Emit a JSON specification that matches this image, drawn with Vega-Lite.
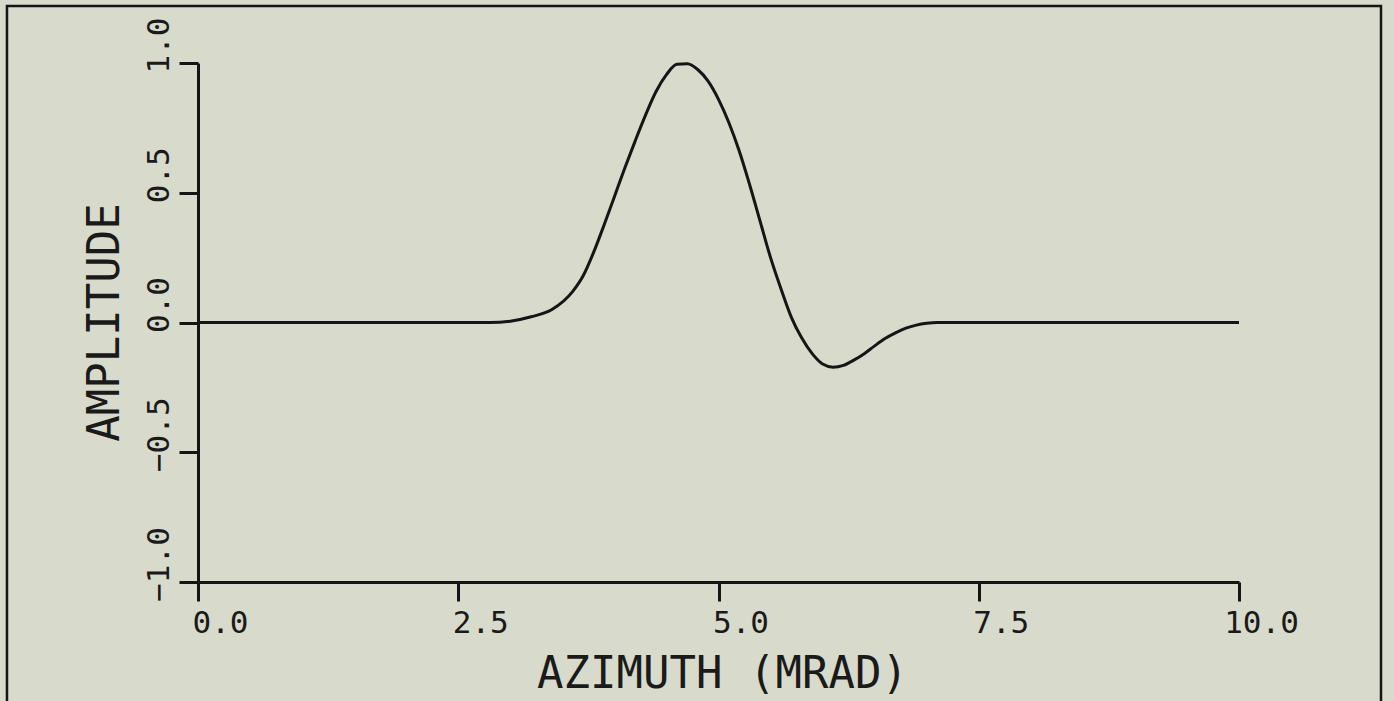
{
  "$schema": "https://vega.github.io/schema/vega-lite/v6.json",
  "width": 1041,
  "height": 519,
  "autosize": {"type": "none"},
  "padding": {"left": 198, "top": 63, "right": 155, "bottom": 119},
  "background": "#d8dacb",
  "config": {"view": {"stroke": null}, "font": "DejaVu Sans Mono"},
  "datasets": {
    "curve": [
      {"az": 0.0, "amp": 0.0},
      {"az": 1.0, "amp": 0.0},
      {"az": 2.0, "amp": 0.0},
      {"az": 2.8, "amp": 0.0},
      {"az": 3.0, "amp": 0.005},
      {"az": 3.2, "amp": 0.022},
      {"az": 3.4, "amp": 0.05},
      {"az": 3.6, "amp": 0.12},
      {"az": 3.7, "amp": 0.18},
      {"az": 3.8, "amp": 0.27},
      {"az": 3.9, "amp": 0.375},
      {"az": 4.0, "amp": 0.485},
      {"az": 4.1, "amp": 0.595},
      {"az": 4.2, "amp": 0.7},
      {"az": 4.3, "amp": 0.8},
      {"az": 4.4, "amp": 0.89},
      {"az": 4.5, "amp": 0.955},
      {"az": 4.6, "amp": 0.995},
      {"az": 4.7, "amp": 0.997},
      {"az": 4.8, "amp": 0.975},
      {"az": 4.9, "amp": 0.93},
      {"az": 5.0, "amp": 0.86},
      {"az": 5.1, "amp": 0.77},
      {"az": 5.2, "amp": 0.66},
      {"az": 5.3, "amp": 0.53},
      {"az": 5.4, "amp": 0.39},
      {"az": 5.5, "amp": 0.25},
      {"az": 5.6, "amp": 0.13},
      {"az": 5.7, "amp": 0.02},
      {"az": 5.8, "amp": -0.06},
      {"az": 5.9, "amp": -0.12},
      {"az": 6.0, "amp": -0.16},
      {"az": 6.1, "amp": -0.172},
      {"az": 6.2, "amp": -0.165},
      {"az": 6.3, "amp": -0.145},
      {"az": 6.4, "amp": -0.12},
      {"az": 6.5, "amp": -0.09},
      {"az": 6.6, "amp": -0.062},
      {"az": 6.7, "amp": -0.04},
      {"az": 6.8, "amp": -0.022},
      {"az": 6.9, "amp": -0.01},
      {"az": 7.0, "amp": -0.003},
      {"az": 7.1, "amp": 0.0},
      {"az": 8.0, "amp": 0.0},
      {"az": 9.0, "amp": 0.0},
      {"az": 10.0, "amp": 0.0}
    ]
  },
  "layer": [
    {
      "data": {"values": [{"frame": "border"}]},
      "mark": {"type": "rect", "fill": null, "stroke": "#151515", "strokeWidth": 2.5},
      "encoding": {
        "x": {"datum": -1.835, "type": "quantitative"},
        "x2": {"datum": 11.364},
        "y": {"datum": 1.22, "type": "quantitative"},
        "y2": {"datum": -1.6}
      }
    },
    {
      "data": {"name": "curve"},
      "mark": {"type": "line", "stroke": "#151515", "strokeWidth": 3, "interpolate": "monotone"},
      "encoding": {
        "x": {
          "field": "az",
          "type": "quantitative",
          "scale": {"domain": [0, 10], "nice": false, "zero": false},
          "axis": {
            "values": [0, 2.5, 5, 7.5, 10],
            "format": ".1f",
            "grid": false,
            "domainColor": "#151515",
            "domainWidth": 3,
            "tickColor": "#151515",
            "tickWidth": 3,
            "tickSize": 19,
            "labelFont": "DejaVu Sans Mono",
            "labelFontSize": 31,
            "labelColor": "#1a1a1a",
            "labelPadding": 7,
            "labelOffset": 22,
            "labelFlush": false,
            "title": "AZIMUTH (MRAD)",
            "titleFont": "DejaVu Sans Mono",
            "titleFontSize": 44,
            "titleFontWeight": "normal",
            "titleColor": "#1a1a1a",
            "titleBaseline": "alphabetic",
            "titleX": 524,
            "titleY": 105
          }
        },
        "y": {
          "field": "amp",
          "type": "quantitative",
          "scale": {"domain": [-1, 1], "nice": false, "zero": false},
          "axis": {
            "values": [-1, -0.5, 0, 0.5, 1],
            "format": ".1f",
            "grid": false,
            "domainColor": "#151515",
            "domainWidth": 3,
            "tickColor": "#151515",
            "tickWidth": 3,
            "tickSize": 19,
            "labelFont": "DejaVu Sans Mono",
            "labelFontSize": 31,
            "labelColor": "#1a1a1a",
            "labelAngle": -90,
            "labelAlign": "center",
            "labelBaseline": "bottom",
            "labelPadding": 4,
            "labelOffset": -18,
            "labelFlush": false,
            "title": "AMPLITUDE",
            "titleFont": "DejaVu Sans Mono",
            "titleFontSize": 44,
            "titleFontWeight": "normal",
            "titleColor": "#1a1a1a",
            "titleAngle": -90,
            "titleAlign": "center",
            "titleBaseline": "alphabetic",
            "titleX": -80,
            "titleY": 259
          }
        }
      }
    }
  ]
}
